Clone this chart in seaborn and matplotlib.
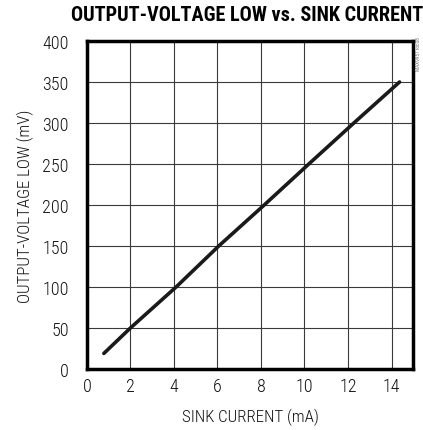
import matplotlib
matplotlib.use("Agg")
import matplotlib.pyplot as plt
import seaborn as sns
import pandas as pd

sink_current_ma = [0.78, 2.0, 4.1, 6.06, 8.15, 10.2, 12.27, 14.37]
vol_mv = [19, 50, 100, 150, 200, 250, 300, 350]
x_ticks = [0, 2, 4, 6, 8, 10, 12, 14]
y_ticks = [0, 50, 100, 150, 200, 250, 300, 350, 400]

df = pd.DataFrame({"x": sink_current_ma, "y": vol_mv})

sns.set_theme(style="white")
plt.rcParams['font.family'] = ['Roboto Condensed', 'DejaVu Sans']
plt.rcParams['font.weight'] = 'light'

fig = plt.figure(figsize=(4.23, 4.31), dpi=100)
ax = fig.add_axes([0.2054, 0.1415, 0.7716, 0.7611])

sns.lineplot(data=df, x="x", y="y", ax=ax, color="#1a1a1a", linewidth=2.6, zorder=3)

ax.set_xlim(0, 15)
ax.set_ylim(0, 400)
ax.set_xticks(x_ticks)
ax.set_yticks(y_ticks)
ax.set_xticklabels([str(t) for t in x_ticks], fontsize=13, fontweight='light')
ax.set_yticklabels([str(t) for t in y_ticks], fontsize=13, fontweight='light')
ax.tick_params(axis='both', length=0, colors='#111111')
ax.tick_params(axis='x', pad=6)
ax.tick_params(axis='y', pad=13)
ax.grid(True, color='#3a3a3a', linewidth=0.8)
ax.set_axisbelow(True)
for s in ax.spines.values():
    s.set_linewidth(2.5)
    s.set_color('black')
    s.set_visible(True)

ax.set_xlabel("SINK CURRENT (mA)", fontsize=12.2, fontweight='light', labelpad=9, color='#111111')
ax.set_ylabel("OUTPUT-VOLTAGE LOW (mV)", fontsize=12.2, fontweight='light', labelpad=6, color='#111111')

fig.text(0.168, 0.964, "OUTPUT-VOLTAGE LOW vs. SINK CURRENT", fontsize=14.6,
         fontweight='heavy', ha='left', va='center', color='black')
fig.text(0.99, 0.875, "MAX9957 toc08", fontsize=4, rotation=90, ha='center',
         va='center', color='#333333')

fig.savefig("out.png", dpi=100)
